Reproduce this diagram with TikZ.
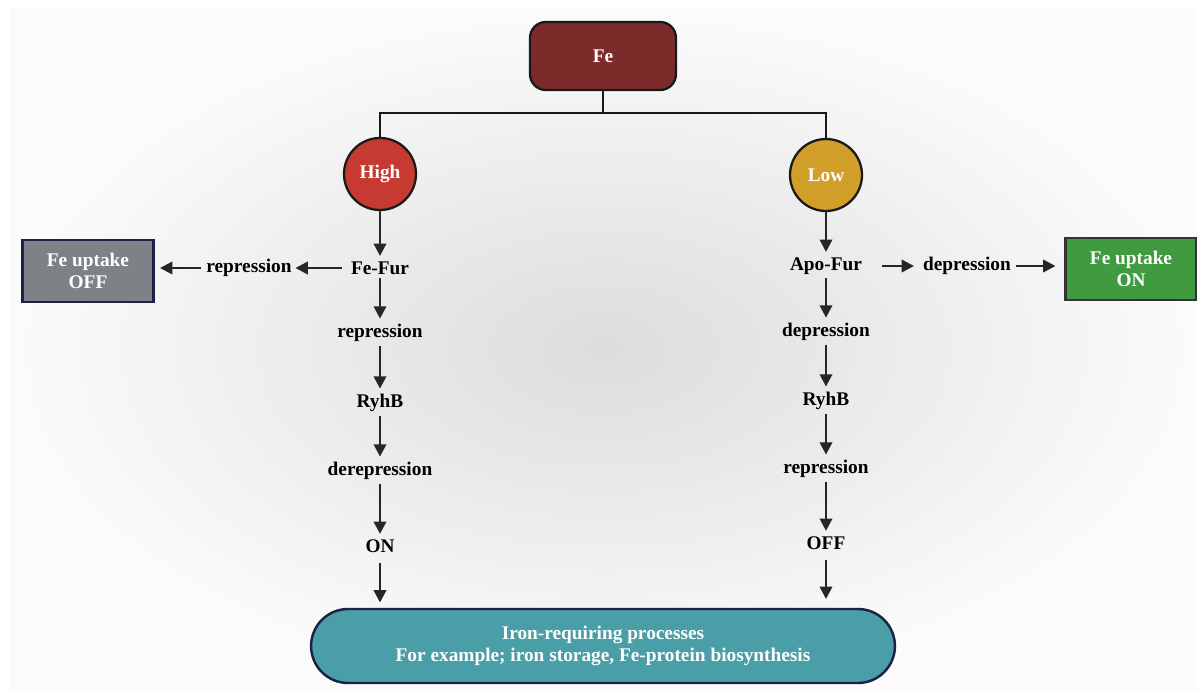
\documentclass[tikz,border=0pt]{standalone}
\usepackage{fontspec}
\setmainfont{Liberation Serif}
\usepackage{xcolor}
\usepackage{tikz}
\usetikzlibrary{positioning, arrows.meta, shapes.misc}

\definecolor{feRed}{HTML}{7D2A2A}
\definecolor{highRed}{HTML}{C63A32}
\definecolor{lowGold}{HTML}{D29E2A}
\definecolor{offGray}{HTML}{7C8285}
\definecolor{onGreen}{HTML}{3F9A40}
\definecolor{procTeal}{HTML}{4A9EA7}
\definecolor{edgeNavy}{HTML}{1C2145}
\definecolor{arrowInk}{HTML}{262626}

\tikzset{
  lbl/.style={font=\fontsize{11}{12.5}\selectfont\bfseries, inner sep=2pt},
  wlbl/.style={lbl, text=white, align=center},
  flow/.style={-{Triangle[length=7pt,width=7pt]}, line width=1.4pt, draw=arrowInk},
  tree/.style={line width=1.2pt, draw=black!90},
  state/.style={circle, draw=black!90, line width=1.3pt, minimum size=1.44cm, wlbl},
  uptake/.style={rectangle, line width=1.4pt, minimum width=2.62cm, minimum height=1.24cm, wlbl}
}

\begin{document}
\begin{tikzpicture}[x=0.02cm, y=-0.02cm]
  \def\xl{380}
  \def\xr{826}
  % background
  \useasboundingbox (0,0) rectangle (1197,690);
  \fill[white] (0,0) rectangle (1197,690);
  \shade[inner color=gray!27, outer color=gray!3] (10,8) rectangle (1197,690);

  % top of the tree
  \node[rounded corners=9pt, draw=black!90, line width=1.3pt, fill=feRed,
        minimum width=2.92cm, minimum height=1.36cm, wlbl] (fe) at (603,56) {Fe};
  \node[state, fill=highRed] (high) at (\xl,174) {High};
  \node[state, fill=lowGold] (low) at (\xr,175) {Low};
  \coordinate (junc) at (603,113);
  \draw[tree] (fe.south) -- (junc);
  \draw[tree] (high.north) |- (junc) -| (low.north);

  % high iron branch
  \node[lbl] (fefur) at (\xl,268) {Fe-Fur};
  \node[lbl] (repL) at (\xl,333) {repression};
  \node[lbl] (ryhbL) at (\xl,403) {RyhB};
  \node[lbl] (derepL) at (\xl,471) {derepression};
  \node[lbl] (onL) at (\xl,546) {ON};
  \node[lbl] (repH) at (249,268) {repression};
  \node[uptake, draw=edgeNavy, fill=offGray] (offbox) at (88,271) {Fe uptake\\OFF};

  % low iron branch
  \node[lbl] (apofur) at (\xr,266) {Apo-Fur};
  \node[lbl] (depR) at (\xr,332) {depression};
  \node[lbl] (ryhbR) at (\xr,401) {RyhB};
  \node[lbl] (repR) at (\xr,469) {repression};
  \node[lbl] (offR) at (\xr,543) {OFF};
  \node[lbl] (depH) at (967,266) {depression};
  \node[uptake, draw=black!80, fill=onGreen] (onbox) at (1131,269) {Fe uptake\\ON};

  % common outcome
  \node[rounded rectangle, draw=edgeNavy, line width=1.4pt, fill=procTeal,
        minimum width=11.82cm, minimum height=1.48cm, wlbl] (proc) at (603,646)
        {Iron-requiring processes\\For example; iron storage, Fe-protein biosynthesis};

  % vertical chains
  \foreach \a/\b in {high/fefur, fefur/repL, repL/ryhbL, ryhbL/derepL, derepL/onL,
                     low/apofur, apofur/depR, depR/ryhbR, ryhbR/repR, repR/offR}
    \draw[flow, shorten >=1pt] (\a) -- (\b);
  \draw[flow, shorten <=4pt, shorten >=3pt] (onL) -- (onL |- proc.north);
  \draw[flow, shorten <=4pt, shorten >=5pt] (offR) -- (offR |- proc.north);

  % side branches
  \draw[flow, shorten <=3pt] (fefur.west) -- (repH.east);
  \draw[flow, shorten <=1pt, shorten >=3pt] (repH.west) -- (repH.west -| offbox.east);
  \draw[flow, shorten <=9pt, shorten >=3pt] (apofur.east) -- (depH.west);
  \draw[flow, shorten <=1pt, shorten >=5pt] (depH.east) -- (depH.east -| onbox.west);
\end{tikzpicture}
\end{document}
